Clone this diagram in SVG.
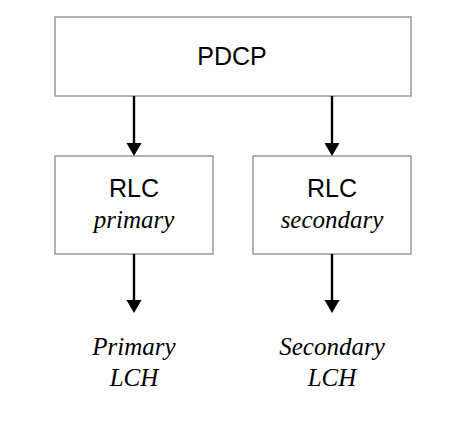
<svg xmlns="http://www.w3.org/2000/svg" width="464" height="429" viewBox="0 0 464 429">
<style>
.box{fill:#fff;stroke:#8a8a8a;stroke-width:1.3}
.sans{font-family:"Liberation Sans",Arial,sans-serif;font-size:25px;fill:#000;text-anchor:middle}
.ital{font-family:"Liberation Serif","Times New Roman",serif;font-style:italic;font-size:25px;fill:#000;text-anchor:middle}
.conn{stroke:#000;stroke-width:2.4;fill:none}
.head{fill:#000}
</style>
<rect width="464" height="429" fill="#fff"/>
<g id="pdcp">
<rect class="box" x="55" y="17" width="356" height="79"/>
<text class="sans" x="232" y="65">PDCP</text>
</g>
<g id="rlc-primary">
<rect class="box" x="55" y="156" width="158" height="98"/>
<text class="sans" x="134" y="197">RLC</text>
<text class="ital" x="134" y="228">primary</text>
</g>
<g id="rlc-secondary">
<rect class="box" x="253" y="156" width="158" height="98"/>
<text class="sans" x="332" y="197">RLC</text>
<text class="ital" x="332" y="228">secondary</text>
</g>
<g id="primary-lch">
<text class="ital" x="134" y="355">Primary</text>
<text class="ital" x="134" y="386">LCH</text>
</g>
<g id="secondary-lch">
<text class="ital" x="332" y="355">Secondary</text>
<text class="ital" x="332" y="386">LCH</text>
</g>
<g id="connectors">
<line class="conn" x1="134" y1="96" x2="134" y2="143"/>
<path class="head" d="M126.5,143 L141.5,143 L134,156 Z"/>
<line class="conn" x1="332" y1="96" x2="332" y2="143"/>
<path class="head" d="M324.5,143 L339.5,143 L332,156 Z"/>
<line class="conn" x1="134" y1="254" x2="134" y2="300"/>
<path class="head" d="M126.5,300 L141.5,300 L134,313 Z"/>
<line class="conn" x1="332" y1="254" x2="332" y2="300"/>
<path class="head" d="M324.5,300 L339.5,300 L332,313 Z"/>
</g>
</svg>
